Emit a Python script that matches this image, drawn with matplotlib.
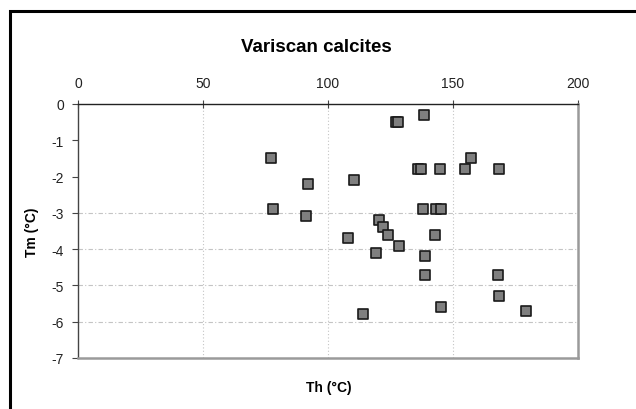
import matplotlib
matplotlib.use("Agg")
import matplotlib.pyplot as plt
from matplotlib.patches import Rectangle

# Th (homogenisation) and Tm (melting) values
th = [77.3, 78.1, 91.9, 91.1, 110.5, 108.1, 127.0, 128.0, 138.4,
      136.0, 137.0, 144.7, 154.7, 157.0, 168.5,
      137.9, 143.0, 145.0, 120.5, 121.9, 124.0, 142.8, 128.5, 119.3,
      138.8, 138.8, 167.9, 168.3, 145.2, 179.3, 113.9]
tm = [-1.5, -2.9, -2.2, -3.1, -2.1, -3.7, -0.5, -0.5, -0.3,
      -1.8, -1.8, -1.8, -1.8, -1.5, -1.8,
      -2.9, -2.9, -2.9, -3.2, -3.4, -3.6, -3.6, -3.9, -4.1,
      -4.2, -4.7, -4.7, -5.3, -5.6, -5.7, -5.8]

x_ticks = [0, 50, 100, 150, 200]
y_ticks = [0, -1, -2, -3, -4, -5, -6, -7]
y_grid = [-3, -4, -5, -6]

plt.rcParams['font.family'] = ['Liberation Sans', 'DejaVu Sans']
plt.rcParams['axes.unicode_minus'] = False

fig = plt.figure(figsize=(6.36, 4.10), dpi=100)
W, H = 636, 410
ax = fig.add_axes([78 / W, 1 - 359 / H, 500 / W, 254 / H])

# outer chart frame (runs off the right and bottom of the picture)
fig.patches.append(Rectangle((9.5 / W, -0.1), 1.0, 1 - 11.5 / H + 0.1,
                             transform=fig.transFigure, fill=False,
                             edgecolor='black', linewidth=2.2))

ax.set_xlim(0, 200)
ax.set_ylim(-7, 0)
ax.set_xticks(x_ticks)
ax.set_yticks(y_ticks)
ax.xaxis.tick_top()
ax.tick_params(axis='x', direction='inout', length=6, pad=7, labelsize=10,
               color='#444444', labelcolor='#222222')
ax.tick_params(axis='y', direction='out', length=4, pad=6, labelsize=10,
               color='#444444', labelcolor='#222222')

for x in x_ticks[1:-1]:
    ax.axvline(x, color='#c4c4c4', linestyle=(0, (1, 2)), linewidth=0.8,
               zorder=0)
ax.hlines(y_grid, 0, 200, colors='#c4c4c4', linestyles=(0, (4, 2, 1, 2)),
          linewidth=0.8, zorder=0)

ax.spines['top'].set_color('#222222')
ax.spines['top'].set_linewidth(1.0)
ax.spines['left'].set_color('#444444')
ax.spines['left'].set_linewidth(1.0)
ax.spines['right'].set_color('#9a9a9a')
ax.spines['right'].set_linewidth(1.8)
ax.spines['bottom'].set_color('#9a9a9a')
ax.spines['bottom'].set_linewidth(1.8)

ax.scatter(th, tm, marker='s', s=62, facecolor='#7f7f7f',
           edgecolor='#1a1a1a', linewidth=1.2, zorder=3, clip_on=False)

fig.text(316 / W, 1 - 48 / H, 'Variscan calcites', ha='center',
         va='center', fontsize=13.5, fontweight='bold')
fig.text(329 / W, 1 - 388 / H, 'Th (°C)', ha='center', va='center',
         fontsize=10, fontweight='bold')
fig.text(32 / W, 1 - 232 / H, 'Tm (°C)', ha='center', va='center',
         rotation=90, fontsize=10, fontweight='bold')

fig.savefig('out.png', dpi=100)
